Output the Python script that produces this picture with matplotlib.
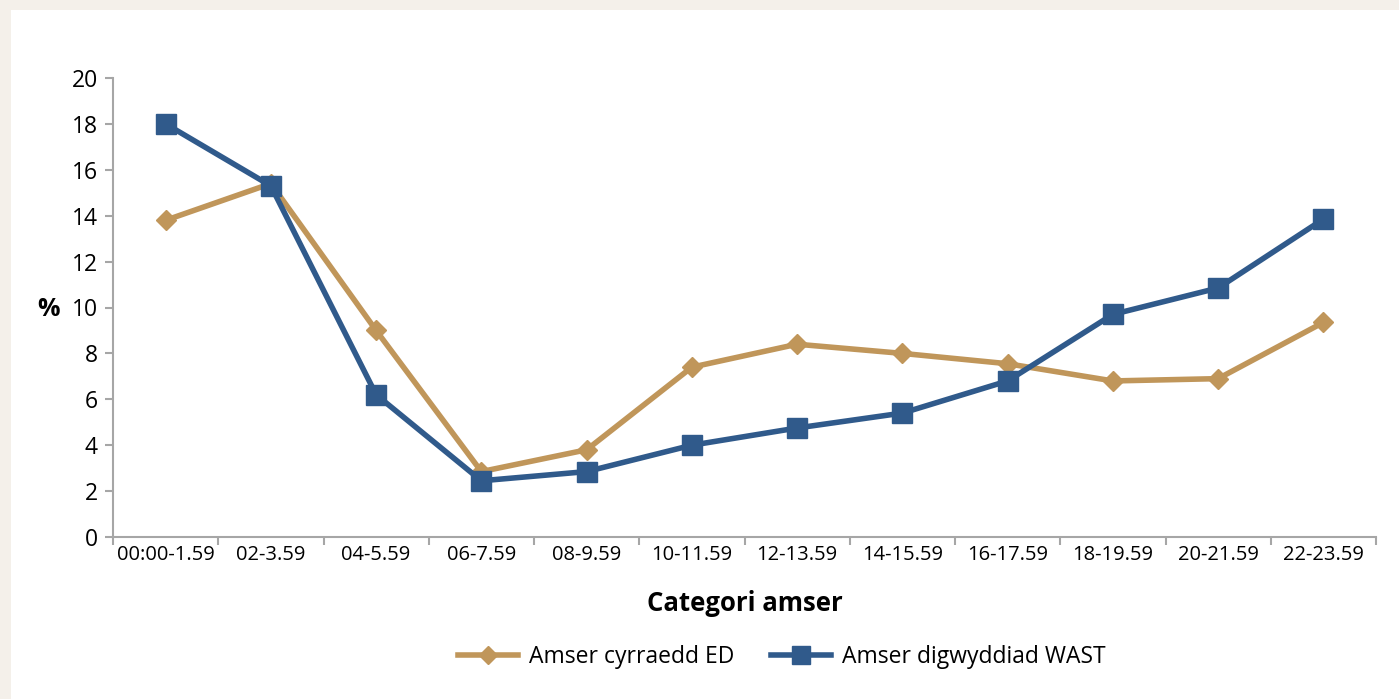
import matplotlib.pyplot as plt
import matplotlib.patches as mpatches
import numpy as np

plt.rcParams['font.family'] = ['Open Sans', 'DejaVu Sans']

categories = ["00:00-1.59", "02-3.59", "04-5.59", "06-7.59", "08-9.59", "10-11.59",
              "12-13.59", "14-15.59", "16-17.59", "18-19.59", "20-21.59", "22-23.59"]
ed_arrival = [13.8, 15.4, 9.0, 2.85, 3.8, 7.4, 8.4, 8.0, 7.55, 6.8, 6.9, 9.35]
wast_incident = [18.0, 15.3, 6.2, 2.45, 2.85, 4.0, 4.75, 5.4, 6.8, 9.7, 10.85, 13.85]

tan = "#c0965a"
blue = "#305a8b"
grey = "#a6a6a6"

fig = plt.figure(figsize=(13.99, 6.99), dpi=100)
fig.patch.set_facecolor("#f4f0ea")
# white panel, beige strip only on the left and top
fig.patches.append(mpatches.Rectangle((11 / 1399, 0), 1, 1 - 10 / 699,
                                      transform=fig.transFigure, facecolor="white",
                                      edgecolor="none", zorder=-10))

ax = fig.add_axes([113 / 1399, 1 - 537 / 699, (1376 - 113) / 1399, (537 - 78) / 699])
ax.set_facecolor("none")

x = np.arange(len(categories))
ax.plot(x, ed_arrival, color=tan, lw=4, marker="D", markersize=10,
        label="Amser cyrraedd ED", zorder=3)
ax.plot(x, wast_incident, color=blue, lw=4, marker="s", markersize=14,
        label="Amser digwyddiad WAST", zorder=4)

ax.set_xlim(-0.5, len(categories) - 0.5)
ax.set_ylim(0, 20)
ax.set_yticks(np.arange(0, 21, 2))
ax.set_xticks(np.arange(-0.5, len(categories), 1))
ax.set_xticklabels([])
ax.set_xticks(x, minor=True)
ax.set_xticklabels(categories, minor=True)
ax.tick_params(axis="x", which="minor", length=0, labelsize=14.5, pad=6)
ax.tick_params(axis="x", which="major", length=6, color=grey, width=1.5)
ax.tick_params(axis="y", length=6, color=grey, width=1.5, labelsize=16.5, pad=5)

for s in ["top", "right"]:
    ax.spines[s].set_visible(False)
for s in ["left", "bottom"]:
    ax.spines[s].set_color(grey)
    ax.spines[s].set_linewidth(1.5)

fig.text(48 / 1399, 1 - 309 / 699, "%", fontsize=18, fontweight="bold",
         ha="center", va="center")
ax.set_xlabel("Categori amser", fontsize=18.5, fontweight="bold", labelpad=18)

ax.legend(loc="center", bbox_to_anchor=(782 / 1399, 1 - 657 / 699),
          bbox_transform=fig.transFigure, ncol=2, frameon=False, fontsize=16.5,
          handlelength=2.6, handletextpad=0.5, columnspacing=1.6, markerscale=0.9)

fig.savefig("out.png", dpi=100, facecolor=fig.get_facecolor())
